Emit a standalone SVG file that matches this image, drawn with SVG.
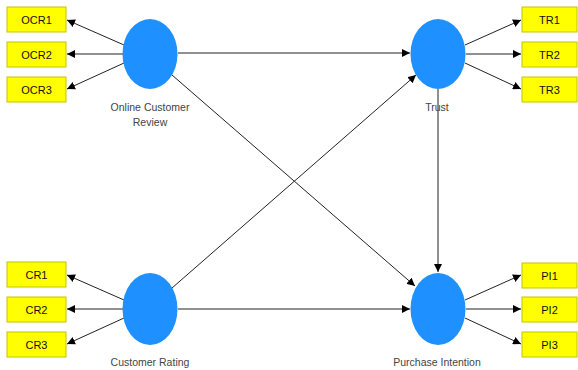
<svg xmlns="http://www.w3.org/2000/svg" width="578" height="370" viewBox="0 0 578 370">
<style>
.box{fill:#ffff00;stroke:#c4c400;stroke-width:1}
.bt{font-family:"Liberation Sans",Arial,sans-serif;font-size:11px;fill:#111;text-anchor:middle;dominant-baseline:central}
.lv{fill:#1e90ff}
.lt{font-family:"Liberation Sans",Arial,sans-serif;font-size:10.5px;fill:#444;text-anchor:middle}
.c{stroke:#222;stroke-width:1;fill:none;marker-end:url(#a)}
</style>
<defs>
<marker id="a" viewBox="0 0 10 10" refX="10" refY="5" markerWidth="8" markerHeight="8" markerUnits="userSpaceOnUse" orient="auto"><path d="M0,0 L10,5 L0,10 z" fill="#000"/></marker>
</defs>
<rect width="578" height="370" fill="#fff"/>
<g id="connectors">
<line class="c" x1="124" y1="45" x2="67" y2="20"/>
<line class="c" x1="123" y1="54" x2="67" y2="54"/>
<line class="c" x1="124" y1="63" x2="67" y2="89"/>
<line class="c" x1="465" y1="45" x2="521" y2="20"/>
<line class="c" x1="466" y1="54" x2="521" y2="54"/>
<line class="c" x1="465" y1="63" x2="521" y2="89"/>
<line class="c" x1="124" y1="300" x2="67" y2="275"/>
<line class="c" x1="123" y1="309" x2="67" y2="309"/>
<line class="c" x1="124" y1="318" x2="67" y2="344"/>
<line class="c" x1="465" y1="300" x2="521" y2="275"/>
<line class="c" x1="466" y1="309" x2="521" y2="309"/>
<line class="c" x1="465" y1="318" x2="521" y2="344"/>
<line class="c" x1="178" y1="53" x2="410" y2="53"/>
<line class="c" x1="172" y1="75" x2="415" y2="286"/>
<line class="c" x1="172" y1="288" x2="416" y2="75"/>
<line class="c" x1="178" y1="309" x2="410" y2="309"/>
<line class="c" x1="438" y1="89" x2="438" y2="272"/>
</g>
<g id="ocr">
<ellipse class="lv" cx="150" cy="54" rx="27.5" ry="35"/>
<text class="lt" x="150" y="111">Online Customer</text>
<text class="lt" x="150" y="126">Review</text>
</g>
<g id="trust">
<ellipse class="lv" cx="438" cy="54" rx="27.5" ry="35"/>
<text class="lt" x="437" y="111">Trust</text>
</g>
<g id="cr">
<ellipse class="lv" cx="150" cy="309" rx="27.5" ry="36"/>
<text class="lt" x="150" y="366">Customer Rating</text>
</g>
<g id="pi">
<ellipse class="lv" cx="438" cy="309" rx="27.5" ry="36"/>
<text class="lt" x="437" y="366">Purchase Intention</text>
</g>
<g id="OCR1"><rect class="box" x="7" y="7" width="59" height="25"/><text class="bt" x="36.5" y="19.5">OCR1</text></g>
<g id="OCR2"><rect class="box" x="7" y="42" width="59" height="25"/><text class="bt" x="36.5" y="54.5">OCR2</text></g>
<g id="OCR3"><rect class="box" x="7" y="77" width="59" height="25"/><text class="bt" x="36.5" y="89.5">OCR3</text></g>
<g id="TR1"><rect class="box" x="522" y="7" width="55" height="25"/><text class="bt" x="549.5" y="19.5">TR1</text></g>
<g id="TR2"><rect class="box" x="522" y="42" width="55" height="25"/><text class="bt" x="549.5" y="54.5">TR2</text></g>
<g id="TR3"><rect class="box" x="522" y="77" width="55" height="25"/><text class="bt" x="549.5" y="89.5">TR3</text></g>
<g id="CR1"><rect class="box" x="7" y="262" width="59" height="25"/><text class="bt" x="36.5" y="274.5">CR1</text></g>
<g id="CR2"><rect class="box" x="7" y="297" width="59" height="25"/><text class="bt" x="36.5" y="309.5">CR2</text></g>
<g id="CR3"><rect class="box" x="7" y="332" width="59" height="25"/><text class="bt" x="36.5" y="344.5">CR3</text></g>
<g id="PI1"><rect class="box" x="522" y="263" width="55" height="25"/><text class="bt" x="549.5" y="275.5">PI1</text></g>
<g id="PI2"><rect class="box" x="522" y="297" width="55" height="25"/><text class="bt" x="549.5" y="309.5">PI2</text></g>
<g id="PI3"><rect class="box" x="522" y="332" width="55" height="25"/><text class="bt" x="549.5" y="344.5">PI3</text></g>
</svg>
